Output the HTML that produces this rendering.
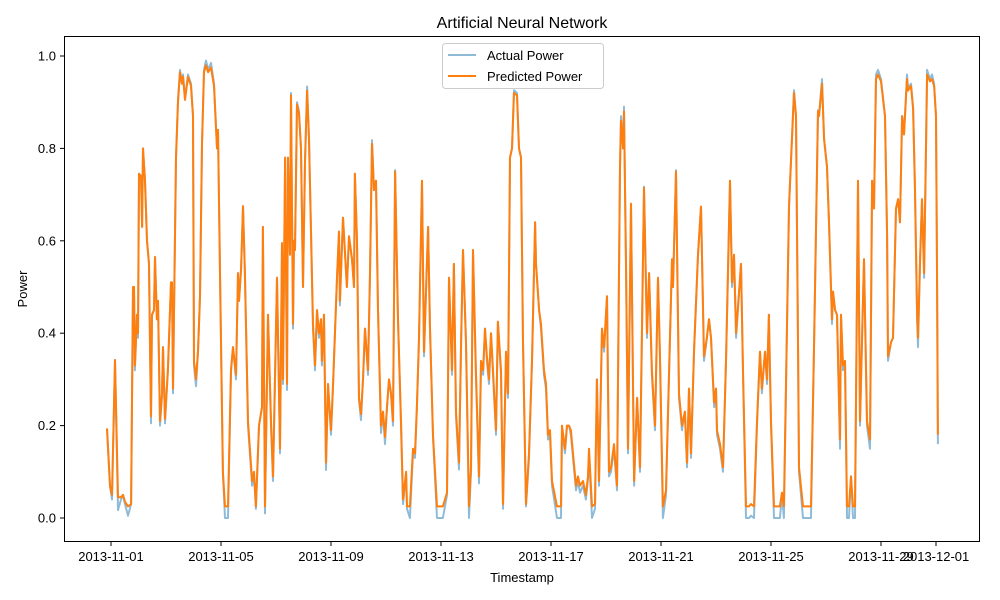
<!DOCTYPE html>
<html><head><meta charset="utf-8"><style>
html,body{margin:0;padding:0;background:#fff;}
svg{display:block;font-family:"Liberation Sans","DejaVu Sans",sans-serif;}
</style></head><body>
<svg id="chart" width="1000" height="600" viewBox="0 0 1000 600" xmlns="http://www.w3.org/2000/svg">
<rect x="0" y="0" width="1000" height="600" fill="#fff"/>
<text x="522" y="28" font-size="16" text-anchor="middle" fill="#000">Artificial Neural Network</text>
<text x="522" y="582" font-size="13" text-anchor="middle" fill="#000">Timestamp</text>
<text x="27" y="289" font-size="13" text-anchor="middle" fill="#000" transform="rotate(-90 27 289)">Power</text>
<g id="ticks"></g>
<g id="series"></g>
<rect x="64.5" y="36.5" width="915" height="505" fill="none" stroke="#000" stroke-width="1"/>
<g>
<rect x="442.5" y="43.5" width="161" height="45" rx="3" fill="#fff" fill-opacity="0.8" stroke="#ccc"/>
<line x1="448" y1="55" x2="476" y2="55" stroke="#1f77b4" stroke-opacity="0.5" stroke-width="2"/>
<text x="487" y="60" font-size="13" fill="#000">Actual Power</text>
<line x1="448" y1="76" x2="476" y2="76" stroke="#ff7f0e" stroke-width="2"/>
<text x="487" y="81" font-size="13" fill="#000">Predicted Power</text>
</g>
</svg>
<script>
const hours = [-3.5,-0.9,0.9,3.5,6.1,8.7,10.5,12.2,14.8,17.5,19.2,20.1,20.9,22.7,23.6,24.4,26.2,27.1,27.9,29.7,31.4,33.2,34.0,34.9,35.8,37.5,38.4,40.1,41.0,42.8,44.5,45.4,47.1,49.7,52.4,53.2,54.1,56.7,58.5,60.2,62.0,62.8,64.6,67.2,69.8,71.6,72.4,74.2,75.9,77.7,79.4,81.2,82.9,84.7,87.3,89.9,92.5,93.4,95.1,97.7,99.5,102.1,104.7,106.5,109.1,110.8,111.7,113.5,115.2,116.9,119.6,123.1,124.8,126.5,129.2,131.8,132.6,134.4,137.0,139.6,141.4,144.9,147.5,149.2,150.1,151.9,153.6,154.5,156.2,157.1,158.8,159.7,160.6,162.3,164.1,165.8,167.6,169.3,171.1,172.8,174.5,176.3,178.0,179.8,181.5,183.3,184.1,185.9,187.6,189.4,192.0,193.7,197.2,199.0,199.8,202.5,205.9,207.7,210.3,212.1,212.9,214.7,216.4,218.2,219.9,221.7,224.3,226.0,227.8,229.5,231.3,233.0,235.6,237.4,239.1,240.9,242.6,244.4,246.1,247.9,250.5,253.1,254.8,257.5,258.3,260.9,263.6,265.3,267.0,268.8,271.4,273.2,276.7,278.4,281.0,284.5,289.7,293.2,295.0,297.6,299.3,301.1,303.7,305.5,307.2,309.8,312.4,314.2,315.9,318.5,321.2,322.9,324.7,326.4,328.1,329.9,331.6,333.4,336.0,337.7,340.4,342.1,344.7,346.5,348.2,350.0,351.7,354.3,356.1,357.8,359.6,362.2,364.8,367.4,370.1,370.9,373.6,375.3,377.9,379.6,381.4,383.1,384.9,389.2,392.7,393.6,396.2,398.0,399.7,401.4,403.2,405.8,407.6,409.3,411.9,414.5,416.3,417.2,419.8,422.4,424.1,425.9,428.5,430.3,432.9,434.6,436.4,439.0,441.6,444.2,445.1,446.9,447.7,449.5,451.2,453.8,456.5,459.1,461.7,465.2,467.8,469.6,472.1,474.8,477.4,479.1,481.7,484.4,487.0,489.6,490.5,493.1,495.7,498.3,500.9,502.7,504.4,506.2,508.8,512.3,514.9,517.5,520.1,521.9,523.6,526.3,528.0,528.9,531.5,534.1,536.7,540.2,542.0,543.7,545.5,549.8,551.6,554.2,556.8,558.5,561.2,563.8,566.4,568.1,570.8,572.5,574.2,576.0,578.6,583.8,585.6,587.3,591.7,596.1,597.8,599.6,600.4,603.9,610.9,613.6,617.0,617.9,620.5,622.3,624.9,626.6,629.2,630.1,631.9,633.6,636.2,637.1,638.8,640.6,642.3,644.1,645.8,647.6,649.3,651.9,653.7,657.2,659.8,662.4,664.2,665.9,667.6,669.4,672.0,675.5,677.3,678.1,680.7,682.5,685.1,686.9,688.6,690.4,692.1,694.7,695.6,698.2,700.0,701.7,703.5,704.3,706.1,707.8,709.6,712.2,714.8,716.5,718.3,720.0,720.9,721.7];
const actualPower = [0.194,0.068,0.04,0.342,0.017,0.04,0.05,0.03,0.005,0.03,0.50,0.50,0.32,0.44,0.39,0.745,0.74,0.63,0.80,0.73,0.60,0.55,0.37,0.205,0.44,0.45,0.565,0.43,0.47,0.20,0.265,0.37,0.205,0.32,0.51,0.51,0.27,0.78,0.905,0.97,0.94,0.96,0.91,0.96,0.94,0.87,0.33,0.285,0.36,0.48,0.81,0.97,0.99,0.97,0.985,0.94,0.80,0.84,0.53,0.097,0.0,0.0,0.32,0.37,0.30,0.53,0.47,0.54,0.675,0.53,0.20,0.07,0.095,0.02,0.20,0.24,0.63,0.01,0.44,0.20,0.08,0.52,0.14,0.595,0.29,0.78,0.277,0.78,0.57,0.92,0.41,0.60,0.58,0.90,0.88,0.80,0.50,0.77,0.934,0.82,0.63,0.41,0.32,0.45,0.39,0.43,0.33,0.44,0.104,0.29,0.18,0.28,0.52,0.62,0.46,0.65,0.50,0.61,0.56,0.50,0.745,0.60,0.255,0.212,0.30,0.41,0.31,0.53,0.818,0.71,0.73,0.45,0.184,0.23,0.16,0.24,0.30,0.27,0.20,0.753,0.43,0.20,0.03,0.095,0.02,0.0,0.14,0.13,0.24,0.385,0.73,0.35,0.63,0.41,0.175,0.0,0.0,0.05,0.52,0.31,0.55,0.22,0.105,0.38,0.58,0.38,0.0,0.10,0.58,0.31,0.075,0.33,0.31,0.41,0.34,0.29,0.40,0.31,0.18,0.425,0.31,0.02,0.36,0.26,0.78,0.80,0.926,0.92,0.80,0.78,0.38,0.025,0.13,0.34,0.64,0.55,0.45,0.41,0.31,0.28,0.17,0.18,0.07,0.0,0.0,0.19,0.14,0.20,0.20,0.18,0.13,0.06,0.08,0.055,0.07,0.04,0.085,0.14,0.0,0.02,0.30,0.07,0.41,0.36,0.48,0.09,0.10,0.15,0.06,0.76,0.87,0.80,0.89,0.53,0.14,0.68,0.07,0.26,0.10,0.717,0.39,0.53,0.31,0.19,0.52,0.34,0.0,0.05,0.31,0.56,0.50,0.753,0.26,0.19,0.23,0.11,0.28,0.13,0.36,0.57,0.674,0.34,0.39,0.43,0.39,0.24,0.28,0.18,0.15,0.10,0.34,0.73,0.50,0.57,0.39,0.55,0.31,0.0,0.0,0.005,0.0,0.20,0.36,0.27,0.36,0.29,0.44,0.20,0.0,0.0,0.05,0.0,0.674,0.926,0.87,0.38,0.10,0.0,0.0,0.38,0.883,0.87,0.95,0.82,0.76,0.64,0.42,0.49,0.45,0.44,0.15,0.44,0.32,0.34,0.0,0.0,0.09,0.0,0.0,0.73,0.20,0.56,0.20,0.15,0.73,0.67,0.96,0.97,0.95,0.87,0.61,0.34,0.38,0.39,0.67,0.69,0.64,0.87,0.83,0.96,0.93,0.94,0.89,0.71,0.43,0.37,0.56,0.69,0.52,0.97,0.95,0.96,0.94,0.87,0.54,0.16];
const predictedPower = [0.194,0.07,0.05,0.342,0.045,0.045,0.05,0.035,0.025,0.03,0.50,0.50,0.33,0.44,0.40,0.745,0.74,0.63,0.80,0.73,0.60,0.55,0.38,0.22,0.44,0.45,0.565,0.43,0.47,0.21,0.27,0.37,0.215,0.32,0.51,0.51,0.28,0.78,0.90,0.965,0.94,0.955,0.905,0.955,0.935,0.87,0.34,0.30,0.36,0.48,0.81,0.965,0.98,0.965,0.975,0.935,0.80,0.84,0.53,0.10,0.025,0.025,0.32,0.37,0.31,0.53,0.47,0.54,0.675,0.53,0.21,0.08,0.10,0.025,0.20,0.24,0.63,0.025,0.44,0.21,0.09,0.52,0.15,0.595,0.30,0.78,0.29,0.78,0.57,0.915,0.42,0.60,0.58,0.895,0.875,0.80,0.50,0.77,0.925,0.82,0.63,0.42,0.33,0.45,0.40,0.43,0.34,0.44,0.12,0.29,0.19,0.28,0.52,0.62,0.47,0.65,0.50,0.61,0.56,0.50,0.745,0.60,0.26,0.225,0.30,0.41,0.32,0.53,0.81,0.71,0.73,0.45,0.20,0.23,0.175,0.24,0.30,0.27,0.21,0.75,0.43,0.21,0.04,0.10,0.025,0.025,0.15,0.14,0.24,0.39,0.73,0.36,0.63,0.41,0.18,0.025,0.025,0.055,0.52,0.32,0.55,0.23,0.12,0.38,0.58,0.38,0.025,0.11,0.58,0.32,0.09,0.34,0.32,0.41,0.35,0.30,0.40,0.32,0.19,0.425,0.32,0.03,0.36,0.27,0.78,0.80,0.92,0.915,0.80,0.78,0.38,0.03,0.14,0.34,0.64,0.55,0.45,0.42,0.32,0.29,0.18,0.19,0.08,0.025,0.025,0.20,0.15,0.20,0.20,0.19,0.14,0.07,0.09,0.07,0.08,0.05,0.09,0.15,0.025,0.03,0.30,0.08,0.41,0.37,0.48,0.10,0.11,0.16,0.07,0.76,0.86,0.80,0.88,0.53,0.15,0.68,0.08,0.26,0.11,0.715,0.40,0.53,0.32,0.20,0.52,0.35,0.025,0.06,0.31,0.56,0.50,0.75,0.27,0.20,0.23,0.12,0.28,0.14,0.36,0.57,0.674,0.35,0.39,0.43,0.39,0.25,0.28,0.19,0.16,0.11,0.34,0.73,0.51,0.57,0.40,0.55,0.32,0.025,0.025,0.03,0.025,0.21,0.36,0.28,0.36,0.30,0.44,0.21,0.025,0.025,0.055,0.025,0.674,0.92,0.87,0.38,0.11,0.025,0.025,0.38,0.88,0.87,0.94,0.82,0.76,0.64,0.43,0.49,0.45,0.44,0.17,0.44,0.33,0.34,0.025,0.025,0.09,0.025,0.025,0.73,0.21,0.56,0.21,0.17,0.73,0.67,0.95,0.96,0.945,0.87,0.61,0.35,0.38,0.39,0.67,0.69,0.64,0.87,0.83,0.95,0.925,0.935,0.885,0.71,0.44,0.39,0.56,0.69,0.53,0.96,0.945,0.95,0.935,0.87,0.54,0.18];
const xTickDays = [0,4,8,12,16,20,24,28,30];
const xTickLabels = ["2013-11-01","2013-11-05","2013-11-09","2013-11-13","2013-11-17","2013-11-21","2013-11-25","2013-11-29","2013-12-01"];
const yTickValues = [0.0,0.2,0.4,0.6,0.8,1.0];
const yTickLabels = ["0.0","0.2","0.4","0.6","0.8","1.0"];

const NS = "http://www.w3.org/2000/svg";
const X0 = 111, PX_PER_DAY = 27.5, Y0 = 518, PX_PER_UNIT = 462;
function xScale(h){ return X0 + h/24*PX_PER_DAY; }
function xDay(d){ return X0 + d*PX_PER_DAY; }
function yScale(v){ return Y0 - v*PX_PER_UNIT; }

const ticks = document.getElementById('ticks');
xTickDays.forEach((d,i)=>{
  const x = xDay(d);
  const t = document.createElementNS(NS,'line');
  t.setAttribute('x1',x);t.setAttribute('x2',x);t.setAttribute('y1',542);t.setAttribute('y2',546);
  t.setAttribute('stroke','#000');
  
  
  ticks.appendChild(t);
  const l = document.createElementNS(NS,'text');
  l.setAttribute('x',x);l.setAttribute('y',561);l.setAttribute('font-size','13');l.setAttribute('text-anchor','middle');
  l.textContent = xTickLabels[i];
  
  
  ticks.appendChild(l);
});
yTickValues.forEach((v,i)=>{
  const y = yScale(v);
  const t = document.createElementNS(NS,'line');
  t.setAttribute('x1',60);t.setAttribute('x2',64);t.setAttribute('y1',y);t.setAttribute('y2',y);
  t.setAttribute('stroke','#000');
  
  
  ticks.appendChild(t);
  const l = document.createElementNS(NS,'text');
  l.setAttribute('x',56);l.setAttribute('y',y+4.5);l.setAttribute('font-size','13');l.setAttribute('text-anchor','end');
  l.textContent = yTickLabels[i];
  
  
  ticks.appendChild(l);
});

const series = document.getElementById('series');
function makeLine(vals, color, opacity, name){
  const p = document.createElementNS(NS,'polyline');
  p.setAttribute('points', vals.map((v,i)=>xScale(hours[i]).toFixed(1)+','+yScale(v).toFixed(1)).join(' '));
  p.setAttribute('fill','none');p.setAttribute('stroke',color);p.setAttribute('stroke-opacity',opacity);
  p.setAttribute('stroke-width','2');p.setAttribute('stroke-linejoin','round');
  
  
  series.appendChild(p);
}
makeLine(actualPower,'#1f77b4','0.5','actual-power-line');
makeLine(predictedPower,'#ff7f0e','1','predicted-power-line');
</script>
</body></html>
